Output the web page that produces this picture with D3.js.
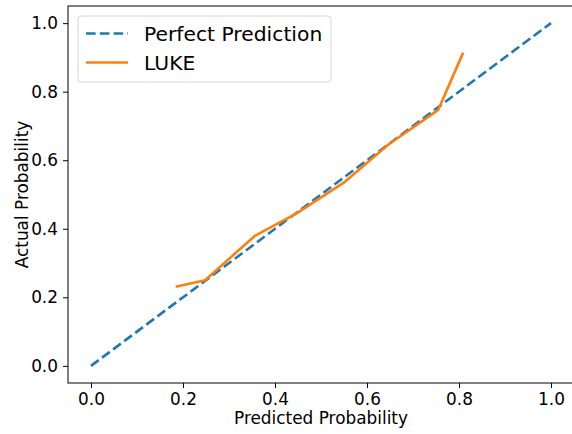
<!DOCTYPE html>
<html>
<head>
<meta charset="utf-8">
<script src="https://cdn.jsdelivr.net/npm/d3@7"></script>
<style>
  body { margin: 0; background: #fff; }
  svg { display: block; font-family: "DejaVu Sans", sans-serif; }
</style>
</head>
<body>
<div id="chart"></div>
<script>
// data
var perfectX = [0, 1];
var perfectY = [0, 1];
var lukeX = [0.184, 0.248, 0.356, 0.447, 0.552, 0.646, 0.755, 0.809];
var lukeY = [0.231, 0.250, 0.379, 0.445, 0.537, 0.645, 0.747, 0.914];
var tickValues = [0.0, 0.2, 0.4, 0.6, 0.8, 1.0];
var seriesNames = ["Perfect Prediction", "LUKE"];

var svgWidth = 572, svgHeight = 434;
var margin = { top: 6, right: -2, bottom: 51, left: 68 };
var width = svgWidth - margin.left - margin.right;
var height = svgHeight - margin.top - margin.bottom;

var svg = d3.select("#chart").append("svg")
    .attr("width", svgWidth)
    .attr("height", svgHeight);

var chartGroup = svg.append("g")
    .attr("transform", `translate(${margin.left}, ${margin.top})`);

var x = d3.scaleLinear().domain([-0.05, 1.05]).range([0, width]);
var y = d3.scaleLinear().domain([-0.05, 1.05]).range([height, 0]);

// axes
var xAxis = d3.axisBottom(x).tickValues(tickValues).tickFormat(d3.format(".1f")).tickSize(5).tickPadding(5);
var yAxis = d3.axisLeft(y).tickValues(tickValues).tickFormat(d3.format(".1f")).tickSize(5).tickPadding(5);

var gx = chartGroup.append("g")
    .attr("transform", `translate(0, ${height})`)
    .call(xAxis);
var gy = chartGroup.append("g").call(yAxis);

[gx, gy].forEach(function (g) {
    g.select(".domain").remove();
    g.selectAll("line").attr("stroke", "#000").attr("stroke-width", 1);
    g.selectAll("text").attr("font-size", "16.9px").attr("fill", "#000")
        .attr("font-family", "DejaVu Sans");
});

// spines
chartGroup.append("rect")
    .attr("x", 0).attr("y", 0)
    .attr("width", width).attr("height", height)
    .attr("fill", "none")
    .attr("stroke", "#000")
    .attr("stroke-width", 1);

var line = d3.line()
    .x(d => x(d[0]))
    .y(d => y(d[1]));

chartGroup.append("path")
    .datum(perfectX.map((v, i) => [v, perfectY[i]]))
    .attr("d", line)
    .attr("fill", "none")
    .attr("stroke", "#1f77b4")
    .attr("stroke-width", 2.6)
    .attr("stroke-dasharray", "9.6,4.2");

chartGroup.append("path")
    .datum(lukeX.map((v, i) => [v, lukeY[i]]))
    .attr("d", line)
    .attr("fill", "none")
    .attr("stroke", "#ff7f0e")
    .attr("stroke-width", 2.6)
    .attr("stroke-linejoin", "round");

// axis labels
svg.append("text")
    .attr("x", margin.left + x(0.5))
    .attr("y", 424)
    .attr("text-anchor", "middle")
    .attr("font-size", "16.9px")
    .text("Predicted Probability");

svg.append("text")
    .attr("transform", `translate(28, ${margin.top + height / 2}) rotate(-90)`)
    .attr("text-anchor", "middle")
    .attr("font-size", "16.9px")
    .text("Actual Probability");

// legend
var legend = svg.append("g").attr("transform", "translate(78, 16)");
legend.append("rect")
    .attr("width", 253).attr("height", 66)
    .attr("rx", 3)
    .attr("fill", "#fff").attr("fill-opacity", 0.8)
    .attr("stroke", "#d6d6d6").attr("stroke-width", 1);

var legendStyles = [
    { color: "#1f77b4", dash: "9.6,4.2" },
    { color: "#ff7f0e", dash: null }
];
seriesNames.forEach(function (name, i) {
    var ly = 17.5 + i * 29;
    legend.append("line")
        .attr("x1", 8).attr("x2", 50)
        .attr("y1", ly).attr("y2", ly)
        .attr("stroke", legendStyles[i].color)
        .attr("stroke-width", 2.6)
        .attr("stroke-dasharray", legendStyles[i].dash);
    legend.append("text")
        .attr("x", 66).attr("y", ly + 7)
        .attr("font-size", "20.3px")
        .text(name);
});
</script>
</body>
</html>
